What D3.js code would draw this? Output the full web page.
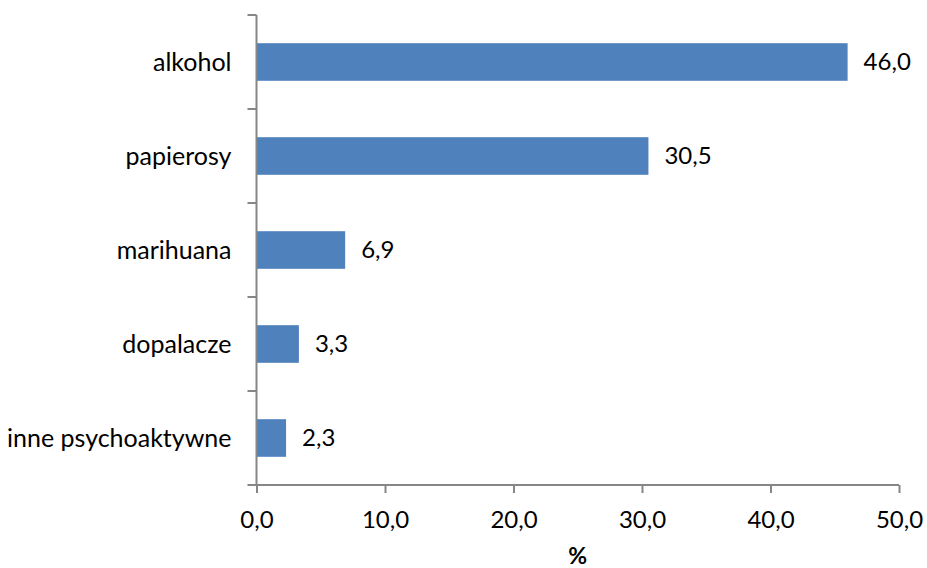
<!DOCTYPE html>
<html><head><meta charset="utf-8">
<script src="https://cdn.jsdelivr.net/npm/d3@7"></script>
<style>body{margin:0;background:#fff}svg{display:block}</style>
</head><body>
<script>
const categories = ["alkohol","papierosy","marihuana","dopalacze","inne psychoaktywne"];
const values = [46.0, 30.5, 6.9, 3.3, 2.3];
const xTicks = [0,10,20,30,40,50];
const xTitle = "%";

const W=927,H=568;
const svg=d3.select("body").append("svg").attr("width",W).attr("height",H);
const font="Lato, 'Open Sans', sans-serif";
const fs=24;
const x=d3.scaleLinear().domain([0,50]).range([256.5,899]);
const y=d3.scaleBand().domain(categories).range([15,485]).paddingInner(0.6).paddingOuter(0.3);
const fmt=v=>v.toFixed(1).replace(".",",");
const axisColor="#868686";

// bars
svg.selectAll("rect.bar").data(values).enter().append("rect")
  .attr("x",x(0)).attr("y",(d,i)=>y(categories[i]))
  .attr("width",d=>x(d)-x(0)).attr("height",y.bandwidth())
  .attr("fill","#4F81BD");

// value labels
svg.selectAll("text.val").data(values).enter().append("text")
  .attr("x",d=>x(d)+16).attr("y",(d,i)=>y(categories[i])+y.bandwidth()/2)
  .attr("dy","0.35em").attr("font-family",font).attr("font-size",fs)
  .attr("fill","#000").text(d=>fmt(d));

// y axis
const yb=d3.scaleBand().domain(categories).range([15,485]);
const gy=svg.append("g").attr("transform","translate("+x(0)+",0)");
gy.append("line").attr("x1",0).attr("x2",0).attr("y1",15).attr("y2",485).attr("stroke",axisColor).attr("stroke-width",2);
const yTickPos=categories.map(c=>yb(c)).concat([485]);
gy.selectAll("line.t").data(yTickPos).enter().append("line")
  .attr("x1",-9).attr("x2",0).attr("y1",d=>d).attr("y2",d=>d).attr("stroke",axisColor).attr("stroke-width",2);
gy.selectAll("text").data(categories).enter().append("text")
  .attr("x",-25).attr("y",c=>yb(c)+yb.bandwidth()/2).attr("dy","0.35em")
  .attr("text-anchor","end").attr("font-family",font).attr("font-size",25).attr("fill","#000").text(c=>c);

// x axis
const gx=svg.append("g").attr("transform","translate(0,485)");
const xAxis=d3.axisBottom(x).tickValues(xTicks).tickSize(8).tickFormat(fmt);
gx.call(xAxis);
gx.select(".domain").remove();
gx.append("line").attr("x1",x(0)).attr("x2",x(50)).attr("y1",0).attr("y2",0).attr("stroke",axisColor).attr("stroke-width",2);
gx.selectAll(".tick line").attr("stroke",axisColor).attr("stroke-width",2);
gx.selectAll(".tick text").attr("font-family",font).attr("font-size",fs).attr("fill","#000").attr("y",35).attr("dy","0.35em");

svg.append("text").attr("x",(x(0)+x(50))/2).attr("y",556).attr("dy","0.35em")
  .attr("text-anchor","middle").attr("font-family",font).attr("font-size",23).attr("font-weight","bold").text(xTitle);
</script>
</body></html>
